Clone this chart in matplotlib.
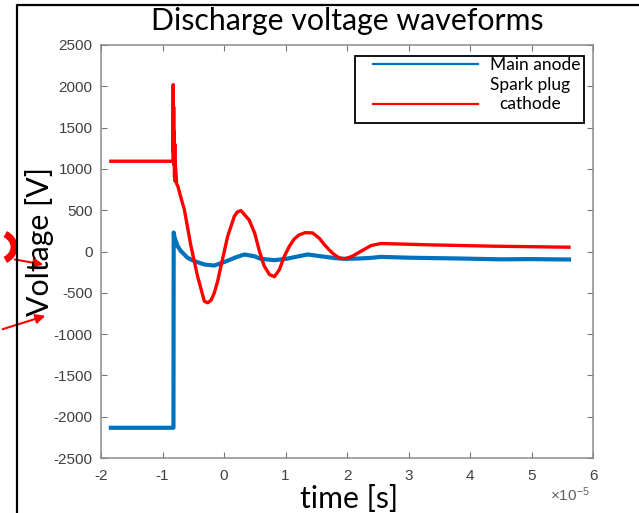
import matplotlib
matplotlib.use('Agg')
import matplotlib.pyplot as plt
from matplotlib.lines import Line2D
from matplotlib.patches import Rectangle, FancyArrowPatch, Arc

plt.rcParams['font.family'] = ['Liberation Sans', 'DejaVu Sans']
plt.rcParams['mathtext.fontset'] = 'custom'
plt.rcParams['mathtext.rm'] = 'Liberation Sans'
plt.rcParams['axes.unicode_minus'] = False

# time in units of 1e-5 s
t_anode = [-1.84, -0.822, -0.818, -0.80, -0.75, -0.70, -0.59, -0.48, -0.32, -0.16,
           0.0, 0.17, 0.33, 0.49, 0.60, 0.82, 1.0, 1.2, 1.36, 1.6, 1.8, 1.96, 2.2,
           2.39, 2.55, 3.0, 3.85, 4.5, 5.0, 5.61]
v_anode = [-2134, -2134, 230, 160, 60, 4, -77, -117, -157, -170,
           -129, -77, -36, -57, -89, -105, -90, -60, -36, -60, -80, -89, -85,
           -77, -65, -75, -85, -95, -92, -97]

t_cathode = [-1.84, -0.83, -0.826, -0.822, -0.818, -0.814, -0.81, -0.805, -0.80, -0.795,
             -0.79, -0.77, -0.75, -0.70, -0.645, -0.537, -0.43, -0.32, -0.265, -0.21,
             -0.157, -0.10, -0.05, 0.06, 0.168, 0.22, 0.276, 0.41, 0.50, 0.57,
             0.65, 0.74, 0.82, 0.90, 0.98, 1.06, 1.14, 1.22, 1.32, 1.44,
             1.55, 1.63, 1.71, 1.79, 1.88, 1.96, 2.08, 2.23, 2.39, 2.55,
             2.8, 3.31, 4.40, 5.61]
v_cathode = [1093, 1093, 2020, 1200, 1750, 1050, 1450, 900, 1300, 850,
             1050, 820, 790, 650, 508, 64, -299, -601, -621, -590,
             -500, -350, -178, 185, 427, 480, 495, 380, 220, 20,
             -170, -280, -305, -220, -60, 60, 150, 200, 228, 225,
             160, 85, 20, -36, -80, -89, -60, 4, 72, 97,
             92, 81, 64, 52]

x_ticks = [-2, -1, 0, 1, 2, 3, 4, 5, 6]
y_ticks = [-2500, -2000, -1500, -1000, -500, 0, 500, 1000, 1500, 2000, 2500]
labels = ['Main anode', 'Spark plug\ncathode']
title = 'Discharge voltage waveforms'
xlabel = 'time [s]'
ylabel = 'Voltage [V]'
x_scale_text = r'$\mathregular{\times10^{-5}}$'

W, H = 639, 513
fig = plt.figure(figsize=(W / 100, H / 100), dpi=100)

def fx(px):
    return px / W

def fy(py):
    return 1 - py / H

ax = fig.add_axes([fx(101), fy(458), (593 - 101) / W, (458 - 45) / H])
ax.plot(t_anode, v_anode, color='#0072BD', lw=3.0, zorder=2, label=labels[0],
        solid_joinstyle='round')
ax.plot(t_cathode, v_cathode, color='#FF0000', lw=2.4, zorder=3, label=labels[1],
        solid_joinstyle='round')

ax.set_xlim(-2, 6)
ax.set_ylim(-2500, 2500)
ax.set_xticks(x_ticks)
ax.set_yticks(y_ticks)
ax.tick_params(direction='in', top=True, right=True, length=4, width=0.8,
               color='#777777', labelcolor='#404040', labelsize=11)
ax.tick_params(axis='y', pad=6)
ax.tick_params(axis='x', pad=8)
for s in ax.spines.values():
    s.set_color('#8a8a8a')
    s.set_linewidth(1.1)

# legend
leg = ax.legend(loc='upper left', bbox_to_anchor=((372 - 101 - 8) / 492, (458 - 48) / 413),
                frameon=False, handlelength=6.05, handletextpad=0.69, borderpad=0.0,
                labelspacing=0.25, prop={'family': 'Lato', 'size': 12.5})
for txt in leg.get_texts():
    txt.set_multialignment('center')
for ln in leg.get_lines():
    ln.set_linewidth(1.6)
red_handle = leg.get_lines()[1]
red_handle.set_ydata([y - 6.5 for y in red_handle.get_ydata()])
frame = Rectangle(((355 - 101) / 492, (458 - 123) / 413), (584 - 355) / 492, (123 - 56) / 413,
                  transform=ax.transAxes, fill=True, facecolor='white', edgecolor='black', lw=1.3, zorder=4)
ax.add_patch(frame)
leg.set_zorder(5)

fig.text(fx(347), fy(21), title, family='Lato', fontsize=21.8, ha='center', va='center', color='black')
fig.text(fx(349), fy(499), xlabel, family='Lato', fontsize=21.8, ha='center', va='center', color='black')
fig.text(fx(40), fy(241), ylabel, family='Lato', fontsize=21.8, ha='center', va='center',
         rotation=90, color='black')
fig.text(fx(590), fy(495), x_scale_text, fontsize=11, ha='right', va='center', color='#606060')

# outer frame
fig.add_artist(Line2D([fx(17), fx(17), fx(640)], [fy(514), fy(5), fy(5)],
                      transform=fig.transFigure, color='black', lw=1.6))

# red annotation marks at left edge
fig.add_artist(Arc((fx(-4), fy(247)), 36 / W, 30 / H, angle=0, theta1=-60, theta2=60,
                   transform=fig.transFigure, color='#FF0000', lw=5))
fig.add_artist(FancyArrowPatch((fx(12), fy(259)), (fx(46), fy(265)), transform=fig.transFigure,
                               arrowstyle='-|>', mutation_scale=14, color='#FF0000', lw=1.5))
fig.add_artist(FancyArrowPatch((fx(0), fy(330)), (fx(48), fy(315)), transform=fig.transFigure,
                               arrowstyle='-|>', mutation_scale=14, color='#FF0000', lw=1.5))

fig.savefig('out.png', dpi=100)
